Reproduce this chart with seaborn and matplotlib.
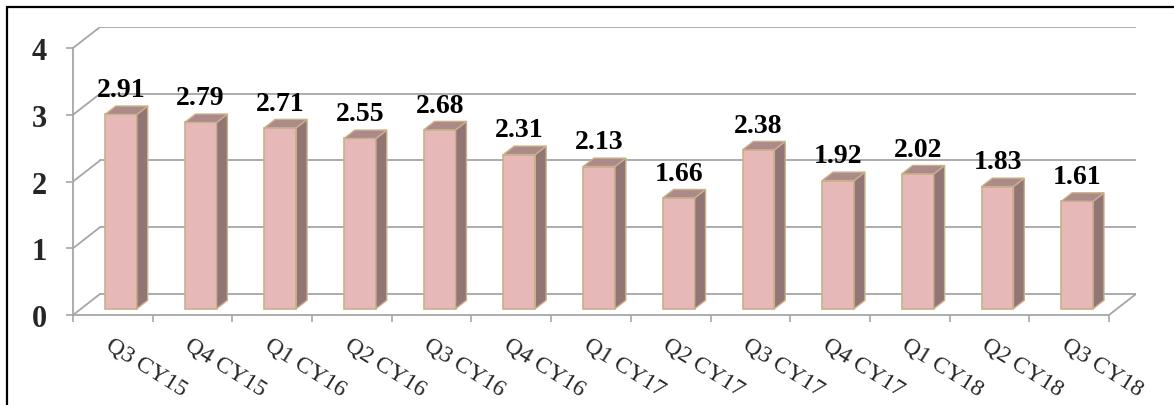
import numpy as np
import matplotlib
matplotlib.use("Agg")
import matplotlib.pyplot as plt
from matplotlib.patches import Polygon
from matplotlib.lines import Line2D
import seaborn as sns

# data
quarters = ["Q3 CY15", "Q4 CY15", "Q1 CY16", "Q2 CY16", "Q3 CY16", "Q4 CY16", "Q1 CY17",
            "Q2 CY17", "Q3 CY17", "Q4 CY17", "Q1 CY18", "Q2 CY18", "Q3 CY18"]
values = [2.91, 2.79, 2.71, 2.55, 2.68, 2.31, 2.13, 1.66, 2.38, 1.92, 2.02, 1.83, 1.61]
yticks = [0, 1, 2, 3, 4]

sns.set_style("white")
plt.rcParams["font.family"] = ["Liberation Serif", "DejaVu Serif"]

# fake 3d depth of the box (data units) and of the bars
DX, DY = 0.339, 0.315
f_front, f_depth = 0.30, 0.40
grid_c = "#A6A6A6"
face_c, side_c, top_c, edge_c = "#E6B8B7", "#927575", "#AC8A89", "#C8B089"

fig = plt.figure(figsize=(11.74, 4.06), dpi=100)
ax = fig.add_axes([73 / 1174, 90 / 406, (1136 - 73) / 1174, (316 - 28) / 406])

sns.barplot(x=quarters, y=values, color=face_c, saturation=1, width=0.4,
            errorbar=None, edgecolor=edge_c, linewidth=1.2, ax=ax, zorder=3)

n = len(quarters)
x0, x1 = -0.5, n - 0.5
ymax = yticks[-1]

# back wall gridlines and left wall diagonals
for k in yticks:
    ax.plot([x0 + DX, x1 + DX], [k + DY, k + DY], color=grid_c, lw=1.3, zorder=1)
    ax.plot([x0, x0 + DX], [k, k + DY], color=grid_c, lw=1.3, zorder=1)
# floor right edge
ax.plot([x1, x1 + DX], [0, DY], color=grid_c, lw=1.3, zorder=1)

# push bars into the depth and add side/top faces
dxb, dyb = f_depth * DX, f_depth * DY
for p, v in zip(ax.patches, values):
    p.set_x(p.get_x() + f_front * DX)
    p.set_y(f_front * DY)
    bx0 = p.get_x()
    bx1 = bx0 + p.get_width()
    by0 = p.get_y()
    by1 = by0 + p.get_height()
    side = Polygon([(bx1, by0), (bx1 + dxb, by0 + dyb), (bx1 + dxb, by1 + dyb), (bx1, by1)],
                   closed=True, fc=side_c, ec=edge_c, lw=1.0, zorder=3)
    top = Polygon([(bx0, by1), (bx1, by1), (bx1 + dxb, by1 + dyb), (bx0 + dxb, by1 + dyb)],
                  closed=True, fc=top_c, ec=edge_c, lw=1.0, zorder=3)
    ax.add_patch(side)
    ax.add_patch(top)
    ax.annotate(f"{v:.2f}", (bx0 + p.get_width() / 2, by1 + dyb), xytext=(0, 7),
                textcoords="offset points", ha="center", va="baseline",
                fontsize=20, fontweight="bold", color="black", zorder=4)

ax.set_xlim(x0, x1 + DX)
ax.set_ylim(0, ymax + DY)

for s in ["top", "right"]:
    ax.spines[s].set_visible(False)
ax.spines["left"].set_bounds(0, ymax)
ax.spines["bottom"].set_bounds(x0, x1)
for s in ["left", "bottom"]:
    ax.spines[s].set_color(grid_c)
    ax.spines[s].set_linewidth(1.3)

ax.set_yticks(yticks)
ax.set_yticklabels([str(t) for t in yticks], fontsize=22, fontweight="bold")
ax.tick_params(axis="y", left=True, length=5, width=1.2, color=grid_c, pad=14)

ax.set_xticks(np.arange(n))
ax.set_xticklabels(quarters, fontsize=17)
ax.set_xticks(np.arange(n + 1) - 0.5, minor=True)
ax.tick_params(axis="x", which="major", bottom=False, length=0, pad=13)
ax.tick_params(axis="x", which="minor", bottom=True, length=5, width=1.2, color=grid_c)
for lab in ax.get_xticklabels():
    lab.set_rotation(-32)
    lab.set_ha("left")
    lab.set_va("top")
    lab.set_rotation_mode("anchor")
ax.set_xlabel("")
ax.set_ylabel("")

# frame around the picture (only left and top edges fall inside the image)
fx, fy = 7 / 1174, 1 - 8 / 406
fig.add_artist(Line2D([fx, fx], [0, fy], transform=fig.transFigure, color="black", lw=1.6))
fig.add_artist(Line2D([fx, 1], [fy, fy], transform=fig.transFigure, color="black", lw=1.6))

fig.savefig("out.png", dpi=100, facecolor="white")
